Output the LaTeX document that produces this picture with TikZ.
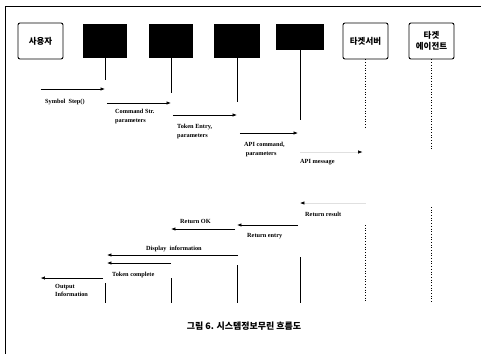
\documentclass[tikz,border=0pt]{standalone}
\usepackage{fontspec}
\setmainfont{Liberation Serif}
\newfontfamily\kor{Noto Sans CJK KR}
\usetikzlibrary{arrows.meta, positioning}

\begin{document}
\begin{tikzpicture}[x=1bp, y=-1bp,
  actor/.style={draw, line width=0.9pt, rounded corners=2pt, minimum width=45bp, minimum height=36bp, inner sep=0pt, align=center, font=\kor\bfseries\fontsize{8.5}{10.5}\selectfont},
  blackbox/.style={fill=black, minimum width=44bp, minimum height=34bp, inner sep=0pt},
  life/.style={line width=0.8pt},
  dotlife/.style={line width=0.7pt, dotted},
  msg/.style={line width=0.7pt, -{Latex[length=4.5pt,width=3.5pt]}},
  faint/.style={draw=black!12, line width=0.6pt, -{Latex[length=4.5pt,width=3.5pt,color=black]}},
  lbl/.style={font=\bfseries\fontsize{6.3}{8.5}\selectfont, inner sep=0pt, anchor=north west, align=left}]
  \useasboundingbox (0,0) rectangle (481,354);
  % frame of the scan
  \draw[line width=0.9pt] (481,6) -- (5,6) -- (5,354);

  % participants
  \node[actor] (user) at (40.5,41) {사용자};
  \node[blackbox] (blka) at (105,41) {};
  \node[blackbox] (blkb) at (171,41) {};
  \node[blackbox, minimum width=46bp] (blkc) at (237,41) {};
  \node[blackbox, minimum width=48bp, minimum height=26bp] (blkd) at (300,37) {};
  \node[actor] (srv) at (365.5,41) {타겟서버};
  \node[actor] (agt) at (431.5,41) {타겟\\에이전트};

  % lifelines
  \draw[life] (blka.south) -- (blka.south |- 0,80);
  \draw[life] (blka.south |- 0,283) -- (blka.south |- 0,303);
  \draw[life] (blkb.south) -- (blkb.south |- 0,93);
  \draw[life] (blkb.south |- 0,278) -- (blkb.south |- 0,303);
  \draw[life] (blkc.south) -- (blkc.south |- 0,102);
  \draw[life] (blkc.south |- 0,265) -- (blkc.south |- 0,303);
  \draw[life] (blkd.south) -- (blkd.south |- 0,120);
  \draw[life] (blkd.south |- 0,257) -- (blkd.south |- 0,303);
  \draw[dotlife] (srv.south) -- (srv.south |- 0,127);
  \draw[dotlife] (srv.south |- 0,225) -- (srv.south |- 0,303);
  \draw[dotlife] (agt.south) -- (agt.south |- 0,150);
  \draw[dotlife] (agt.south |- 0,207) -- (agt.south |- 0,303);

  % messages
  \draw[msg] (user.south |- 0,89) -- (blka.south |- 0,89);
  \node[lbl] (symstep) at (45,99) {Symbol\enspace Step()};
  \draw[msg, shorten <=2pt] (blka.south |- 0,103) -- (blkb.south |- 0,103);
  \node[lbl] (cmdstr) at (115,109) {Command Str.\\parameters};
  \draw[msg, shorten <=2pt] (blkb.south |- 0,115) -- (blkc.south |- 0,115);
  \node[lbl] (tokent) at (177,124) {Token Entry,\\parameters};
  \draw[msg, shorten <=3pt, shorten >=2pt] (blkc.south |- 0,133) -- (blkd.south |- 0,133);
  \node[lbl] (apicmd) at (244,142) {API command,\\\ parameters};
  \draw[faint, shorten >=3pt] (blkd.south |- 0,152) -- (srv.south |- 0,152);
  \node[lbl] (apimsg) at (300,159) {API message};
  \draw[faint] (srv.south |- 0,203) -- (blkd.south |- 0,203);
  \node[lbl] (retres) at (305,212) {Return result};
  \draw[msg, shorten <=2pt] (blkd.south |- 0,225) -- (blkc.south |- 0,225);
  \node[lbl] (retent) at (247,233) {Return entry};
  \draw[msg, shorten <=2pt] (blkc.south |- 0,229) -- (blkb.south |- 0,229);
  \node[lbl] (retok) at (180,219) {Return OK};
  \draw[msg, shorten <=-1pt, shorten >=2pt] (blkc.south |- 0,255) -- (blka.south |- 0,255);
  \node[lbl] (dispinf) at (146,246) {Display\enspace information};
  \draw[msg, shorten >=2pt] (blkb.south |- 0,263) -- (blka.south |- 0,263);
  \node[lbl] (tokcmp) at (112,272) {Token complete};
  \draw[msg, shorten <=2pt] (blka.south |- 0,278) -- (user.south |- 0,278);
  \node[lbl] (outinf) at (55,284) {Output\\Information};

  % caption
  \node[font=\kor\bfseries\fontsize{9}{11}\selectfont] (cap) at (244,326) {그림 6. 시스템정보무린 흐름도};
\end{tikzpicture}
\end{document}
